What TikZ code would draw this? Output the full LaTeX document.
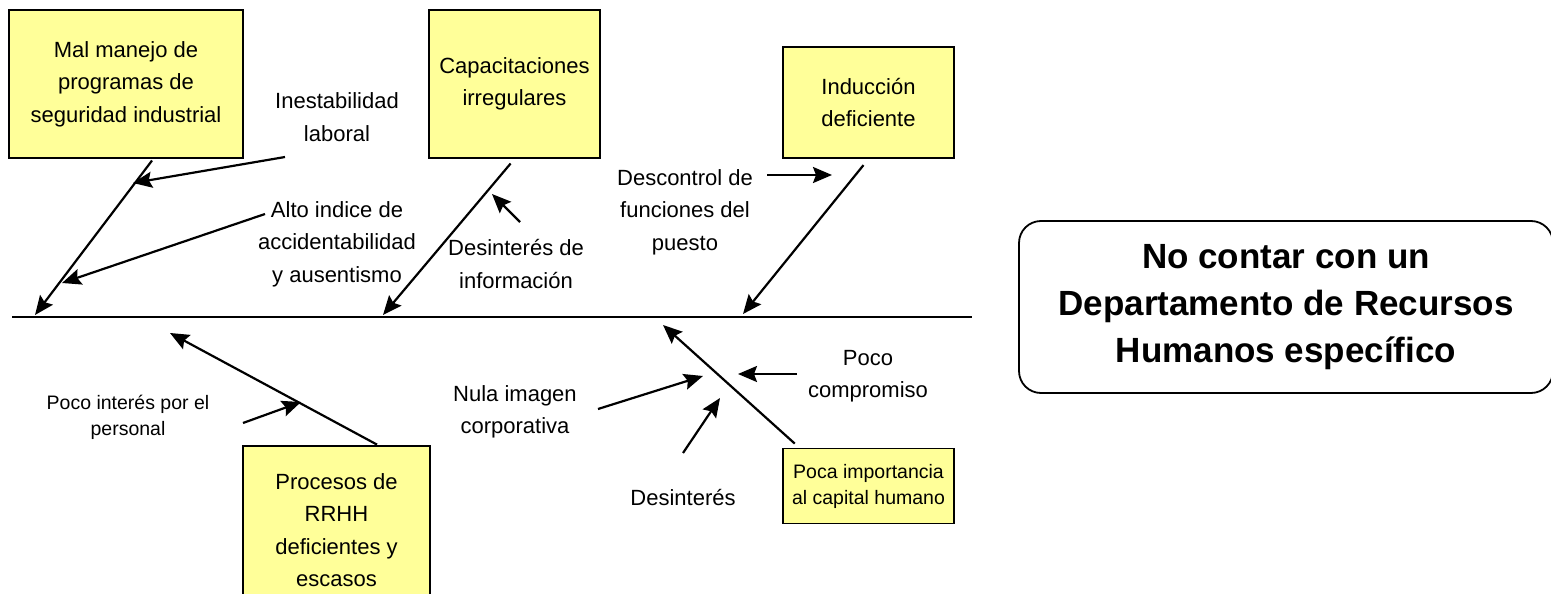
\documentclass[tikz,border=0pt]{standalone}
\usepackage{fontspec}
\setmainfont{Liberation Sans}
\usetikzlibrary{arrows.meta}
\definecolor{boxyellow}{RGB}{255,255,153}
\tikzset{
  causebox/.style={rectangle, draw, line width=1.8pt, fill=boxyellow, align=center, inner sep=0pt, font=\fontsize{22}{32.5}\selectfont},
  causetext/.style={align=center, inner sep=0pt, font=\fontsize{22}{32.5}\selectfont},
  smalltext/.style={align=center, inner sep=0pt, font=\fontsize{19.5}{26}\selectfont},
  arrowline/.style={-{Stealth[length=19pt, width=16pt, inset=3pt]}, line width=2.2pt},
}
\begin{document}
\begin{tikzpicture}[x=1pt, y=-1pt]
  \useasboundingbox (0,0) rectangle (1551,594);
  \clip (0,0) rectangle (1551,594);
  % Nodes
  \node (mal) [causebox, minimum width=234pt, minimum height=148pt] at (126,84) {Mal manejo de\\programas de\\seguridad industrial};
  \node (cap) [causebox, minimum width=171pt, minimum height=148pt] at (514.5,84) {Capacitaciones\\irregulares};
  \node (ind) [causebox, minimum width=171pt, minimum height=111pt] at (868.5,102.5) {Inducción\\deficiente};
  \node (proc) [causebox, minimum width=187pt, minimum height=168pt] at (336.5,530) {Procesos de\\RRHH\\deficientes y\\escasos};
  \node (poca) [causebox, smalltext, minimum width=171pt, minimum height=75pt] at (868.5,486) {Poca importancia\\al capital humano};
  \node (problema) [rectangle, draw, rounded corners=22pt, line width=1.8pt, minimum width=534pt, minimum height=172pt, align=center, font=\bfseries\fontsize{35}{47}\selectfont] at (1286,307) {No contar con un\\Departamento de Recursos\\Humanos específico};
  % Labels
  \node (inest) [causetext] at (337,117) {Inestabilidad\\laboral};
  \node (alto) [causetext] at (337,244) {Alto indice de\\accidentabilidad\\y ausentismo};
  \node (desinf) [causetext] at (516,264) {Desinterés de\\información};
  \node (descon) [causetext] at (685,212) {Descontrol de\\funciones del\\puesto};
  \node (pocoint) [smalltext] at (128,417) {Poco interés por el\\personal};
  \node (nula) [causetext] at (515,412) {Nula imagen\\corporativa};
  \node (pococomp) [causetext] at (868,376) {Poco\\compromiso};
  \node (desint) [causetext] at (683,498) {Desinterés};
  % Spine and tips
  \coordinate (spine-L) at (12,317);
  \coordinate (spine-R) at (972,317);
  \coordinate (mal-tip) at (35,315);
  \coordinate (cap-tip) at (383,315);
  \coordinate (ind-tip) at (743,314);
  \coordinate (proc-tip) at (170,333);
  \coordinate (poca-tip) at (663,325);
  % Arrow ends of the small causes
  \coordinate (inest-from) at (285,157);   \coordinate (inest-to) at (133,183);
  \coordinate (alto-from) at (265,214);    \coordinate (alto-to) at (62,283);
  \coordinate (desinf-from) at (520,222);  \coordinate (desinf-to) at (492,194);
  \coordinate (descon-from) at (767,175);  \coordinate (descon-to) at (832,175);
  \coordinate (pocoint-from) at (243,423); \coordinate (pocoint-to) at (301,402);
  \coordinate (nula-from) at (598,409);    \coordinate (nula-to) at (703,376);
  \coordinate (comp-from) at (797,374);    \coordinate (comp-to) at (738,374);
  \coordinate (desint-from) at (683,453);  \coordinate (desint-to) at (720,398);
  % Arrows
  \draw[line width=2.4pt] (spine-L) -- (spine-R);
  \draw[arrowline, shorten <=2pt] (mal.-70) -- (mal-tip);
  \draw[arrowline, shorten <=6pt] (cap.south) -- (cap-tip);
  \draw[arrowline, shorten <=8pt] (ind.south) -- (ind-tip);
  \draw[arrowline, shorten <=1pt] (proc.64) -- (proc-tip);
  \draw[arrowline, shorten <=6pt] (poca.151) -- (poca-tip);
  \draw[arrowline] (inest-from) -- (inest-to);
  \draw[arrowline] (alto-from) -- (alto-to);
  \draw[arrowline] (desinf-from) -- (desinf-to);
  \draw[arrowline] (descon-from) -- (descon-to);
  \draw[arrowline] (pocoint-from) -- (pocoint-to);
  \draw[arrowline] (nula-from) -- (nula-to);
  \draw[arrowline] (comp-from) -- (comp-to);
  \draw[arrowline] (desint-from) -- (desint-to);
\end{tikzpicture}
\end{document}
